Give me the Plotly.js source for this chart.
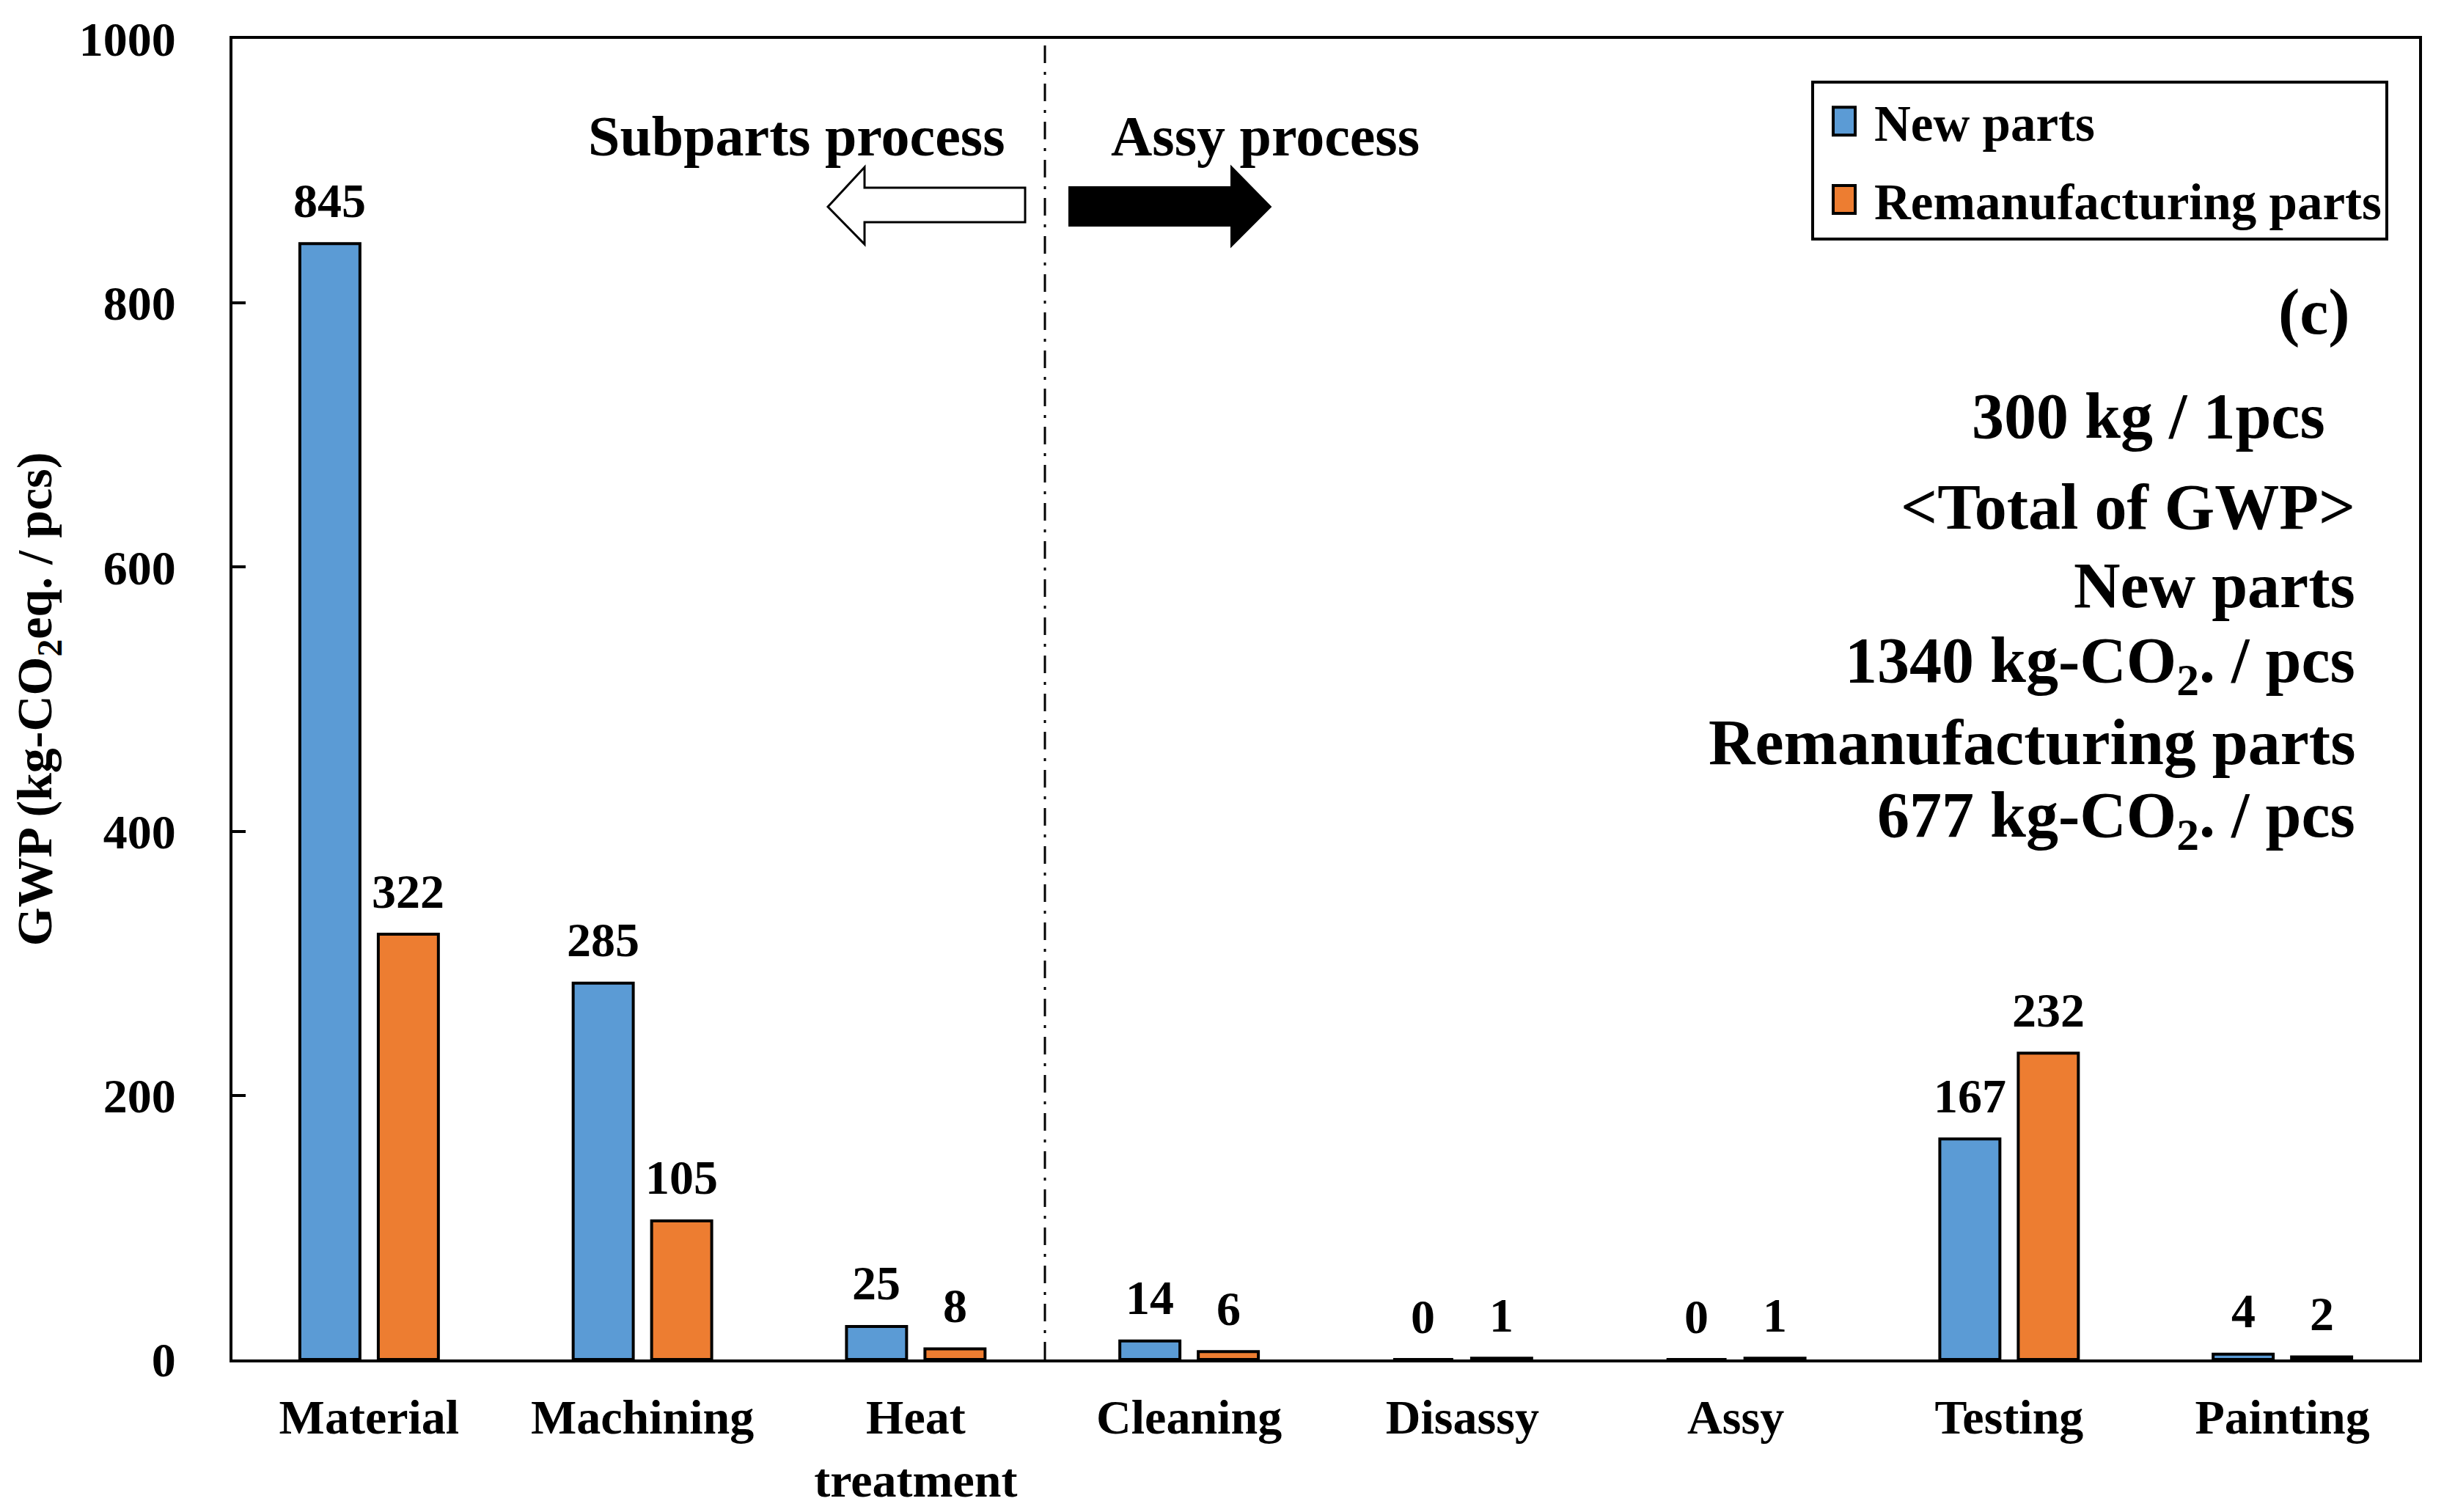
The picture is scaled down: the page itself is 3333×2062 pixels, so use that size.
<!DOCTYPE html>
<html>
<head>
<meta charset="utf-8">
<script src="https://cdn.plot.ly/plotly-3.0.1.min.js"></script>
<style>html,body{margin:0;padding:0;background:#fff;}</style>
</head>
<body>
<div id="chart" style="width:3333px;height:2062px;"></div>
<script>
// ---- data ----
const categories = ["Material", "Machining", "Heat<br>treatment", "Cleaning", "Disassy", "Assy", "Testing", "Painting"];
const newParts = [845, 285, 25, 14, 0, 0, 167, 4];
const remanParts = [322, 105, 8, 6, 1, 1, 232, 2];
const seriesNames = ["New parts", "Remanufacturing parts"];
const yTicks = [0, 200, 400, 600, 800, 1000];
const infoLines = [
  "(c)",
  "300 kg / 1pcs",
  "&lt;Total of GWP&gt;",
  "New parts",
  "1340 kg-CO<sub>2</sub>. / pcs",
  "Remanufacturing parts",
  "677 kg-CO<sub>2</sub>. / pcs"
];

// ---- layout constants ----
const W = 3333, H = 2062;
const M = {l: 317, r: 34, t: 53, b: 208};
const PW = W - M.l - M.r, PH = H - M.t - M.b;
const FONT = "Liberation Serif, 'Times New Roman', serif";
const BARGAP = 0.426;
const catW = PW / categories.length;
const slot = catW * (1 - BARGAP) / 2;
const px = x => (x - M.l) / PW;
const py = y => (H - M.b - y) / PH;
const pathOf = pts => pts.map((p, i) => (i ? "L" : "M") + px(p[0]).toFixed(5) + "," + py(p[1]).toFixed(5)).join(" ") + " Z";

const colors = ["#5B9BD5", "#ED7D31"];
const traces = [newParts, remanParts].map((vals, k) => ({
  type: "bar",
  name: seriesNames[k],
  legendgroup: "g" + k,
  x: categories,
  y: vals,
  marker: {color: colors[k], line: {color: "#000", width: 4}},
  hoverinfo: "skip"
}));

const annotations = [];
[newParts, remanParts].forEach((vals, k) => {
  vals.forEach((v, i) => {
    annotations.push({
      x: categories[i], y: v, xref: "x", yref: "y",
      xshift: (k === 0 ? -1 : 1) * slot / 2, yshift: 59,
      text: String(v), showarrow: false, xanchor: "center", yanchor: "middle",
      font: {family: FONT, size: 66, color: "#000", weight: "bold"}
    });
  });
});

const infoY = [425, 568, 691, 799, 906, 1012, 1118];
const infoRight = [3207, 3173, 3214, 3214, 3214, 3214, 3214];
infoLines.forEach((t, i) => {
  annotations.push({
    x: px(infoRight[i]), y: py(infoY[i]), xref: "paper", yref: "paper",
    text: t, showarrow: false, xanchor: "right", yanchor: "middle",
    font: {family: FONT, size: 88, color: "#000", weight: "bold"}
  });
});
annotations.push({
  x: px(1373), y: py(185), xref: "paper", yref: "paper", text: "Subparts process",
  showarrow: false, xanchor: "right", yanchor: "middle",
  font: {family: FONT, size: 78, color: "#000", weight: "bold"}
});
annotations.push({
  x: px(1513), y: py(185), xref: "paper", yref: "paper", text: "Assy process",
  showarrow: false, xanchor: "left", yanchor: "middle",
  font: {family: FONT, size: 78, color: "#000", weight: "bold"}
});

const shapes = [
  {type: "line", xref: "paper", yref: "paper", x0: px(1425), x1: px(1425), y0: 0, y1: 1,
   line: {color: "#000", width: 3, dash: "24px,12px,4px,12px"}},
  {type: "path", xref: "paper", yref: "paper", fillcolor: "#fff", line: {color: "#000", width: 3},
   path: pathOf([[1129,282],[1179,228],[1179,256],[1398,256],[1398,303],[1179,303],[1179,333]])},
  {type: "path", xref: "paper", yref: "paper", fillcolor: "#000", line: {color: "#000", width: 2},
   path: pathOf([[1458,255],[1679,255],[1679,227],[1733,282],[1679,336],[1679,308],[1458,308]])}
];

const layout = {
  width: W, height: H,
  margin: M,
  paper_bgcolor: "#fff", plot_bgcolor: "#fff",
  font: {family: FONT, color: "#000", weight: "bold"},
  barmode: "group", bargap: BARGAP, bargroupgap: 0.234,
  showlegend: true,
  legend: {
    x: px(3257), xanchor: "right", y: py(110), yanchor: "top",
    bgcolor: "#fff", bordercolor: "#000", borderwidth: 4,
    font: {family: FONT, size: 69, color: "#000", weight: "bold"},
    tracegroupgap: 14, traceorder: "grouped", itemwidth: 72
  },
  xaxis: {
    type: "category", categoryorder: "array", categoryarray: categories,
    showline: true, linecolor: "#000", linewidth: 4, mirror: true,
    ticks: "", showgrid: false, zeroline: false,
    tickfont: {family: FONT, size: 66, color: "#000", weight: "bold"},
    ticklabelstandoff: 18, automargin: false
  },
  yaxis: {
    range: [0, 1000], tickvals: yTicks, ticktext: yTicks.map(String),
    showline: true, linecolor: "#000", linewidth: 4, mirror: true,
    ticks: "inside", ticklen: 18, tickwidth: 4, tickcolor: "#000",
    showgrid: false, zeroline: false,
    tickfont: {family: FONT, size: 66, color: "#000", weight: "bold"},
    ticklabelstandoff: 60, automargin: false,
    title: {text: "GWP (kg-CO<sub>2</sub>eq. / pcs)", standoff: 16,
            font: {family: FONT, size: 68, color: "#000", weight: "bold"}}
  },
  annotations: annotations,
  shapes: shapes
};

Plotly.newPlot("chart", traces, layout, {displayModeBar: false, staticPlot: true}).then(gd => {
  // enlarge the legend swatches to the size used in the reference
  gd.querySelectorAll(".legend .legendpoints path").forEach(p => p.setAttribute("d", "M15,19H-15V-19H15Z"));
});
</script>
</body>
</html>
